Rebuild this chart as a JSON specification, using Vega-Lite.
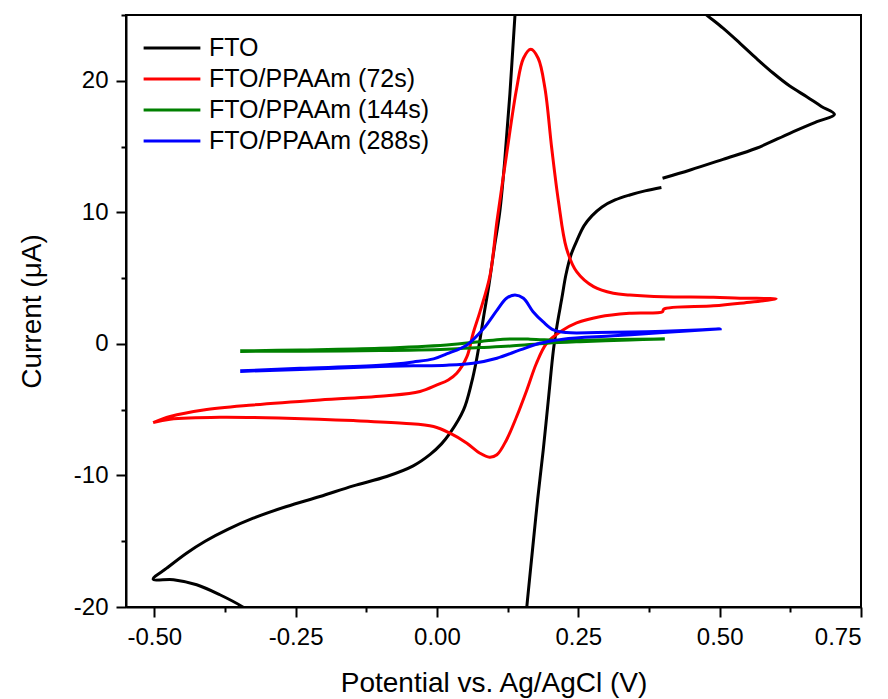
{
  "$schema": "https://vega.github.io/schema/vega-lite/v6.json",
  "autosize": {"type": "none"},
  "width": 735,
  "height": 592,
  "padding": {"left": 126, "top": 15, "right": 27, "bottom": 92},
  "background": "white",
  "config": {
    "view": {"stroke": "black", "strokeWidth": 2},
    "font": "Liberation Sans",
    "axis": {
      "grid": false,
      "domainColor": "black",
      "domainWidth": 2,
      "tickColor": "black",
      "tickWidth": 2,
      "labelFont": "Liberation Sans",
      "labelFontSize": 24,
      "labelColor": "black",
      "titleFont": "Liberation Sans",
      "titleFontSize": 28,
      "titleFontWeight": "normal",
      "titleColor": "black",
      "labelPadding": 8
    },
    "legend": {
      "labelFont": "Liberation Sans",
      "labelFontSize": 25,
      "labelColor": "black",
      "labelLimit": 500
    }
  },
  "data": {
    "values": [
      {"s": "FTO", "g": 1, "v": -0.313, "i": -21.0},
      {"s": "FTO", "g": 1, "v": -0.345, "i": -19.96},
      {"s": "FTO", "g": 1, "v": -0.384, "i": -19.07},
      {"s": "FTO", "g": 1, "v": -0.425, "i": -18.31},
      {"s": "FTO", "g": 1, "v": -0.466, "i": -17.93},
      {"s": "FTO", "g": 1, "v": -0.502, "i": -17.88},
      {"s": "FTO", "g": 1, "v": -0.478, "i": -17.05},
      {"s": "FTO", "g": 1, "v": -0.443, "i": -15.91},
      {"s": "FTO", "g": 1, "v": -0.41, "i": -15.0},
      {"s": "FTO", "g": 1, "v": -0.37, "i": -14.1},
      {"s": "FTO", "g": 1, "v": -0.325, "i": -13.25},
      {"s": "FTO", "g": 1, "v": -0.266, "i": -12.36},
      {"s": "FTO", "g": 1, "v": -0.207, "i": -11.6},
      {"s": "FTO", "g": 1, "v": -0.148, "i": -10.79},
      {"s": "FTO", "g": 1, "v": -0.089, "i": -10.08},
      {"s": "FTO", "g": 1, "v": -0.042, "i": -9.27},
      {"s": "FTO", "g": 1, "v": -0.012, "i": -8.4},
      {"s": "FTO", "g": 1, "v": 0.008, "i": -7.6},
      {"s": "FTO", "g": 1, "v": 0.023, "i": -6.79},
      {"s": "FTO", "g": 1, "v": 0.047, "i": -5.02},
      {"s": "FTO", "g": 1, "v": 0.061, "i": -2.99},
      {"s": "FTO", "g": 1, "v": 0.07, "i": -1.2},
      {"s": "FTO", "g": 1, "v": 0.076, "i": 0.3},
      {"s": "FTO", "g": 1, "v": 0.083, "i": 2.2},
      {"s": "FTO", "g": 1, "v": 0.092, "i": 4.5},
      {"s": "FTO", "g": 1, "v": 0.101, "i": 7.2},
      {"s": "FTO", "g": 1, "v": 0.111, "i": 10.0},
      {"s": "FTO", "g": 1, "v": 0.12, "i": 14.0},
      {"s": "FTO", "g": 1, "v": 0.129, "i": 19.0},
      {"s": "FTO", "g": 1, "v": 0.138, "i": 25.0},
      {"s": "FTO", "g": 1, "v": 0.141, "i": 26.5},
      {"s": "FTO", "g": 2, "v": 0.455, "i": 25.8},
      {"s": "FTO", "g": 2, "v": 0.477, "i": 25.0},
      {"s": "FTO", "g": 2, "v": 0.506, "i": 24.0},
      {"s": "FTO", "g": 2, "v": 0.536, "i": 22.85},
      {"s": "FTO", "g": 2, "v": 0.565, "i": 21.7},
      {"s": "FTO", "g": 2, "v": 0.595, "i": 20.57},
      {"s": "FTO", "g": 2, "v": 0.624, "i": 19.6},
      {"s": "FTO", "g": 2, "v": 0.654, "i": 18.79},
      {"s": "FTO", "g": 2, "v": 0.68, "i": 18.05},
      {"s": "FTO", "g": 2, "v": 0.703, "i": 17.45},
      {"s": "FTO", "g": 2, "v": 0.672, "i": 16.89},
      {"s": "FTO", "g": 2, "v": 0.624, "i": 16.01},
      {"s": "FTO", "g": 2, "v": 0.565, "i": 14.87},
      {"s": "FTO", "g": 2, "v": 0.506, "i": 14.03},
      {"s": "FTO", "g": 2, "v": 0.448, "i": 13.22},
      {"s": "FTO", "g": 2, "v": 0.399, "i": 12.59},
      {"s": "FTO", "g": 3, "v": 0.397, "i": 11.89},
      {"s": "FTO", "g": 3, "v": 0.368, "i": 11.63},
      {"s": "FTO", "g": 3, "v": 0.341, "i": 11.32},
      {"s": "FTO", "g": 3, "v": 0.315, "i": 10.94},
      {"s": "FTO", "g": 3, "v": 0.292, "i": 10.41},
      {"s": "FTO", "g": 3, "v": 0.274, "i": 9.73},
      {"s": "FTO", "g": 3, "v": 0.26, "i": 8.97},
      {"s": "FTO", "g": 3, "v": 0.248, "i": 7.9},
      {"s": "FTO", "g": 3, "v": 0.237, "i": 6.76},
      {"s": "FTO", "g": 3, "v": 0.228, "i": 5.24},
      {"s": "FTO", "g": 3, "v": 0.221, "i": 3.5},
      {"s": "FTO", "g": 3, "v": 0.212, "i": 1.31},
      {"s": "FTO", "g": 3, "v": 0.206, "i": -0.46},
      {"s": "FTO", "g": 3, "v": 0.197, "i": -4.26},
      {"s": "FTO", "g": 3, "v": 0.188, "i": -8.05},
      {"s": "FTO", "g": 3, "v": 0.178, "i": -11.85},
      {"s": "FTO", "g": 3, "v": 0.169, "i": -15.65},
      {"s": "FTO", "g": 3, "v": 0.16, "i": -19.5},
      {"s": "FTO", "g": 3, "v": 0.156, "i": -21.35},

      {"s": "FTO/PPAAm (72s)", "g": 1, "v": -0.502, "i": -5.98},
      {"s": "FTO/PPAAm (72s)", "g": 1, "v": -0.472, "i": -5.52},
      {"s": "FTO/PPAAm (72s)", "g": 1, "v": -0.413, "i": -5.02},
      {"s": "FTO/PPAAm (72s)", "g": 1, "v": -0.325, "i": -4.64},
      {"s": "FTO/PPAAm (72s)", "g": 1, "v": -0.207, "i": -4.26},
      {"s": "FTO/PPAAm (72s)", "g": 1, "v": -0.089, "i": -3.95},
      {"s": "FTO/PPAAm (72s)", "g": 1, "v": -0.03, "i": -3.62},
      {"s": "FTO/PPAAm (72s)", "g": 1, "v": 0.0, "i": -3.12},
      {"s": "FTO/PPAAm (72s)", "g": 1, "v": 0.02, "i": -2.74},
      {"s": "FTO/PPAAm (72s)", "g": 1, "v": 0.035, "i": -2.23},
      {"s": "FTO/PPAAm (72s)", "g": 1, "v": 0.053, "i": -0.97},
      {"s": "FTO/PPAAm (72s)", "g": 1, "v": 0.064, "i": 0.81},
      {"s": "FTO/PPAAm (72s)", "g": 1, "v": 0.076, "i": 2.43},
      {"s": "FTO/PPAAm (72s)", "g": 1, "v": 0.094, "i": 5.24},
      {"s": "FTO/PPAAm (72s)", "g": 1, "v": 0.106, "i": 9.29},
      {"s": "FTO/PPAAm (72s)", "g": 1, "v": 0.123, "i": 14.36},
      {"s": "FTO/PPAAm (72s)", "g": 1, "v": 0.141, "i": 19.43},
      {"s": "FTO/PPAAm (72s)", "g": 1, "v": 0.153, "i": 21.71},
      {"s": "FTO/PPAAm (72s)", "g": 1, "v": 0.166, "i": 22.39},
      {"s": "FTO/PPAAm (72s)", "g": 1, "v": 0.179, "i": 21.71},
      {"s": "FTO/PPAAm (72s)", "g": 1, "v": 0.191, "i": 19.43},
      {"s": "FTO/PPAAm (72s)", "g": 1, "v": 0.203, "i": 14.87},
      {"s": "FTO/PPAAm (72s)", "g": 1, "v": 0.215, "i": 10.81},
      {"s": "FTO/PPAAm (72s)", "g": 1, "v": 0.229, "i": 7.27},
      {"s": "FTO/PPAAm (72s)", "g": 1, "v": 0.247, "i": 5.49},
      {"s": "FTO/PPAAm (72s)", "g": 1, "v": 0.277, "i": 4.35},
      {"s": "FTO/PPAAm (72s)", "g": 1, "v": 0.312, "i": 3.85},
      {"s": "FTO/PPAAm (72s)", "g": 1, "v": 0.341, "i": 3.72},
      {"s": "FTO/PPAAm (72s)", "g": 1, "v": 0.4, "i": 3.59},
      {"s": "FTO/PPAAm (72s)", "g": 1, "v": 0.489, "i": 3.55},
      {"s": "FTO/PPAAm (72s)", "g": 1, "v": 0.536, "i": 3.47},
      {"s": "FTO/PPAAm (72s)", "g": 1, "v": 0.6, "i": 3.42},
      {"s": "FTO/PPAAm (72s)", "g": 1, "v": 0.536, "i": 3.09},
      {"s": "FTO/PPAAm (72s)", "g": 1, "v": 0.489, "i": 2.89},
      {"s": "FTO/PPAAm (72s)", "g": 1, "v": 0.401, "i": 2.64},
      {"s": "FTO/PPAAm (72s)", "g": 1, "v": 0.399, "i": 2.45},
      {"s": "FTO/PPAAm (72s)", "g": 1, "v": 0.341, "i": 2.33},
      {"s": "FTO/PPAAm (72s)", "g": 1, "v": 0.288, "i": 2.07},
      {"s": "FTO/PPAAm (72s)", "g": 1, "v": 0.247, "i": 1.6},
      {"s": "FTO/PPAAm (72s)", "g": 1, "v": 0.218, "i": 0.93},
      {"s": "FTO/PPAAm (72s)", "g": 1, "v": 0.194, "i": 0.05},
      {"s": "FTO/PPAAm (72s)", "g": 1, "v": 0.176, "i": -1.47},
      {"s": "FTO/PPAAm (72s)", "g": 1, "v": 0.159, "i": -3.5},
      {"s": "FTO/PPAAm (72s)", "g": 1, "v": 0.141, "i": -5.52},
      {"s": "FTO/PPAAm (72s)", "g": 1, "v": 0.123, "i": -7.3},
      {"s": "FTO/PPAAm (72s)", "g": 1, "v": 0.106, "i": -8.43},
      {"s": "FTO/PPAAm (72s)", "g": 1, "v": 0.093, "i": -8.61},
      {"s": "FTO/PPAAm (72s)", "g": 1, "v": 0.076, "i": -8.31},
      {"s": "FTO/PPAAm (72s)", "g": 1, "v": 0.053, "i": -7.55},
      {"s": "FTO/PPAAm (72s)", "g": 1, "v": 0.023, "i": -6.79},
      {"s": "FTO/PPAAm (72s)", "g": 1, "v": -0.006, "i": -6.28},
      {"s": "FTO/PPAAm (72s)", "g": 1, "v": -0.06, "i": -6.03},
      {"s": "FTO/PPAAm (72s)", "g": 1, "v": -0.148, "i": -5.83},
      {"s": "FTO/PPAAm (72s)", "g": 1, "v": -0.266, "i": -5.65},
      {"s": "FTO/PPAAm (72s)", "g": 1, "v": -0.384, "i": -5.57},
      {"s": "FTO/PPAAm (72s)", "g": 1, "v": -0.472, "i": -5.72},
      {"s": "FTO/PPAAm (72s)", "g": 1, "v": -0.502, "i": -5.98},

      {"s": "FTO/PPAAm (144s)", "g": 1, "v": -0.348, "i": -0.53},
      {"s": "FTO/PPAAm (144s)", "g": 1, "v": -0.242, "i": -0.46},
      {"s": "FTO/PPAAm (144s)", "g": 1, "v": -0.101, "i": -0.33},
      {"s": "FTO/PPAAm (144s)", "g": 1, "v": 0.017, "i": -0.08},
      {"s": "FTO/PPAAm (144s)", "g": 1, "v": 0.076, "i": 0.17},
      {"s": "FTO/PPAAm (144s)", "g": 1, "v": 0.117, "i": 0.36},
      {"s": "FTO/PPAAm (144s)", "g": 1, "v": 0.165, "i": 0.36},
      {"s": "FTO/PPAAm (144s)", "g": 1, "v": 0.223, "i": 0.25},
      {"s": "FTO/PPAAm (144s)", "g": 1, "v": 0.312, "i": 0.33},
      {"s": "FTO/PPAAm (144s)", "g": 1, "v": 0.403, "i": 0.38},
      {"s": "FTO/PPAAm (144s)", "g": 1, "v": 0.341, "i": 0.3},
      {"s": "FTO/PPAAm (144s)", "g": 1, "v": 0.253, "i": 0.17},
      {"s": "FTO/PPAAm (144s)", "g": 1, "v": 0.194, "i": 0.05},
      {"s": "FTO/PPAAm (144s)", "g": 1, "v": 0.135, "i": -0.15},
      {"s": "FTO/PPAAm (144s)", "g": 1, "v": 0.076, "i": -0.28},
      {"s": "FTO/PPAAm (144s)", "g": 1, "v": 0.017, "i": -0.4},
      {"s": "FTO/PPAAm (144s)", "g": 1, "v": -0.101, "i": -0.51},
      {"s": "FTO/PPAAm (144s)", "g": 1, "v": -0.242, "i": -0.56},
      {"s": "FTO/PPAAm (144s)", "g": 1, "v": -0.348, "i": -0.57},

      {"s": "FTO/PPAAm (288s)", "g": 1, "v": -0.348, "i": -2.05},
      {"s": "FTO/PPAAm (288s)", "g": 1, "v": -0.242, "i": -1.86},
      {"s": "FTO/PPAAm (288s)", "g": 1, "v": -0.101, "i": -1.63},
      {"s": "FTO/PPAAm (288s)", "g": 1, "v": -0.042, "i": -1.37},
      {"s": "FTO/PPAAm (288s)", "g": 1, "v": -0.006, "i": -1.14},
      {"s": "FTO/PPAAm (288s)", "g": 1, "v": 0.017, "i": -0.76},
      {"s": "FTO/PPAAm (288s)", "g": 1, "v": 0.053, "i": -0.08},
      {"s": "FTO/PPAAm (288s)", "g": 1, "v": 0.082, "i": 1.14},
      {"s": "FTO/PPAAm (288s)", "g": 1, "v": 0.106, "i": 2.55},
      {"s": "FTO/PPAAm (288s)", "g": 1, "v": 0.123, "i": 3.47},
      {"s": "FTO/PPAAm (288s)", "g": 1, "v": 0.138, "i": 3.72},
      {"s": "FTO/PPAAm (288s)", "g": 1, "v": 0.153, "i": 3.47},
      {"s": "FTO/PPAAm (288s)", "g": 1, "v": 0.17, "i": 2.45},
      {"s": "FTO/PPAAm (288s)", "g": 1, "v": 0.188, "i": 1.67},
      {"s": "FTO/PPAAm (288s)", "g": 1, "v": 0.206, "i": 1.06},
      {"s": "FTO/PPAAm (288s)", "g": 1, "v": 0.229, "i": 0.86},
      {"s": "FTO/PPAAm (288s)", "g": 1, "v": 0.283, "i": 0.86},
      {"s": "FTO/PPAAm (288s)", "g": 1, "v": 0.371, "i": 0.93},
      {"s": "FTO/PPAAm (288s)", "g": 1, "v": 0.459, "i": 1.06},
      {"s": "FTO/PPAAm (288s)", "g": 1, "v": 0.501, "i": 1.14},
      {"s": "FTO/PPAAm (288s)", "g": 1, "v": 0.4, "i": 0.86},
      {"s": "FTO/PPAAm (288s)", "g": 1, "v": 0.312, "i": 0.61},
      {"s": "FTO/PPAAm (288s)", "g": 1, "v": 0.223, "i": 0.36},
      {"s": "FTO/PPAAm (288s)", "g": 1, "v": 0.182, "i": 0.05},
      {"s": "FTO/PPAAm (288s)", "g": 1, "v": 0.147, "i": -0.46},
      {"s": "FTO/PPAAm (288s)", "g": 1, "v": 0.106, "i": -1.09},
      {"s": "FTO/PPAAm (288s)", "g": 1, "v": 0.064, "i": -1.47},
      {"s": "FTO/PPAAm (288s)", "g": 1, "v": 0.017, "i": -1.62},
      {"s": "FTO/PPAAm (288s)", "g": 1, "v": -0.042, "i": -1.67},
      {"s": "FTO/PPAAm (288s)", "g": 1, "v": -0.101, "i": -1.72},
      {"s": "FTO/PPAAm (288s)", "g": 1, "v": -0.242, "i": -1.94},
      {"s": "FTO/PPAAm (288s)", "g": 1, "v": -0.348, "i": -2.09}
    ]
  },
  "mark": {"type": "line", "clip": true, "strokeWidth": 3, "interpolate": "catmull-rom"},
  "encoding": {
    "x": {
      "field": "v",
      "type": "quantitative",
      "scale": {"domain": [-0.55, 0.75], "nice": false, "zero": false},
      "axis": {
        "title": "Potential vs. Ag/AgCl (V)",
        "values": [-0.5, -0.375, -0.25, -0.125, 0, 0.125, 0.25, 0.375, 0.5, 0.625, 0.75],
        "labelExpr": "abs(datum.value*4 - round(datum.value*4)) < 0.01 ? replace(format(datum.value, '.2f'), '\u2212', '-') : ''",
        "tickSize": {"condition": {"test": "abs(datum.value*4 - round(datum.value*4)) < 0.01", "value": 10}, "value": 5},
        "titlePadding": 20
      }
    },
    "y": {
      "field": "i",
      "type": "quantitative",
      "scale": {"domain": [-20, 25], "nice": false, "zero": false},
      "axis": {
        "title": "Current (μA)",
        "values": [-20, -15, -10, -5, 0, 5, 10, 15, 20, 25],
        "labelExpr": "datum.value % 10 == 0 ? replace(format(datum.value, 'd'), '\u2212', '-') : ''",
        "tickSize": {"condition": {"test": "datum.value % 10 == 0", "value": 10}, "value": 5},
        "titlePadding": 27
      }
    },
    "color": {
      "field": "s",
      "type": "nominal",
      "scale": {
        "domain": ["FTO", "FTO/PPAAm (72s)", "FTO/PPAAm (144s)", "FTO/PPAAm (288s)"],
        "range": ["#000000", "#ff0000", "#008000", "#0000ff"]
      },
      "legend": {
        "title": null,
        "orient": "none",
        "legendX": 28,
        "legendY": 15,
        "padding": 0,
        "symbolType": "M-1.72,0H1.72",
        "symbolSize": 1089,
        "symbolStrokeWidth": 3,
        "symbolFillColor": "transparent",
        "labelOffset": 19,
        "rowPadding": 0
      }
    },
    "detail": {"field": "g", "type": "nominal"},
    "order": {"value": null}
  }
}
